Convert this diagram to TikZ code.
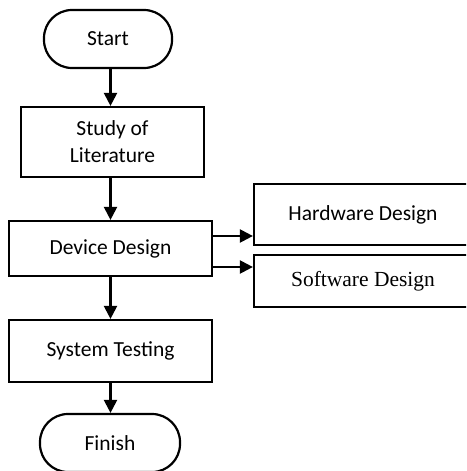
\documentclass[tikz,border=0pt]{standalone}
\usepackage{fontspec}
\setmainfont{Carlito}
\newfontfamily\serifpart{Liberation Serif}
\usetikzlibrary{arrows.meta}
\tikzset{
  stepbox/.style={draw,line width=2.2pt,align=center,inner sep=0pt,font=\fontsize{21.5}{27}\selectfont},
  termbox/.style={stepbox,rounded corners=28pt},
  flow/.style={line width=2.2pt,-{Triangle[length=13pt,width=13pt]}}
}
\begin{document}
\begin{tikzpicture}[x=1pt,y=-1pt]
    \useasboundingbox (0,0) rectangle (466,471);
    \begin{scope}
      \clip (0,0) rectangle (466,471);
      \node[termbox,minimum width=128pt,minimum height=58pt] (start) at (108,39) {Start};
      \node[stepbox,minimum width=183pt,minimum height=70pt] (study) at (112.5,142) {Study of\\Literature};
      \node[stepbox,minimum width=203pt,minimum height=55pt] (device) at (110.5,248.5) {Device Design};
      \node[stepbox,minimum width=203pt,minimum height=62pt] (testing) at (110.5,351) {System Testing};
      \node[termbox,minimum width=140pt,minimum height=58pt] (finish) at (110,443) {Finish};
      \node[stepbox,minimum width=218pt,minimum height=61pt] (hw) at (363,214.5) {Hardware Design};
      \node[stepbox,minimum width=218pt,minimum height=52pt,font=\serifpart\fontsize{21.5}{27}\selectfont] (sw) at (363,281) {Software Design};
    \end{scope}
    \draw[flow] (start.south -| device) -- (study.north -| device);
    \draw[flow] (study.south -| device) -- (device);
    \draw[flow] (device) -- (testing);
    \draw[flow] (testing.south -| device) -- (finish.north -| device);
    \draw[flow] (device.east |- 0,236) -- (hw.west |- 0,236);
    \draw[flow] (device.east |- 0,267) -- (sw.west |- 0,267);
  \end{tikzpicture}
\end{document}
